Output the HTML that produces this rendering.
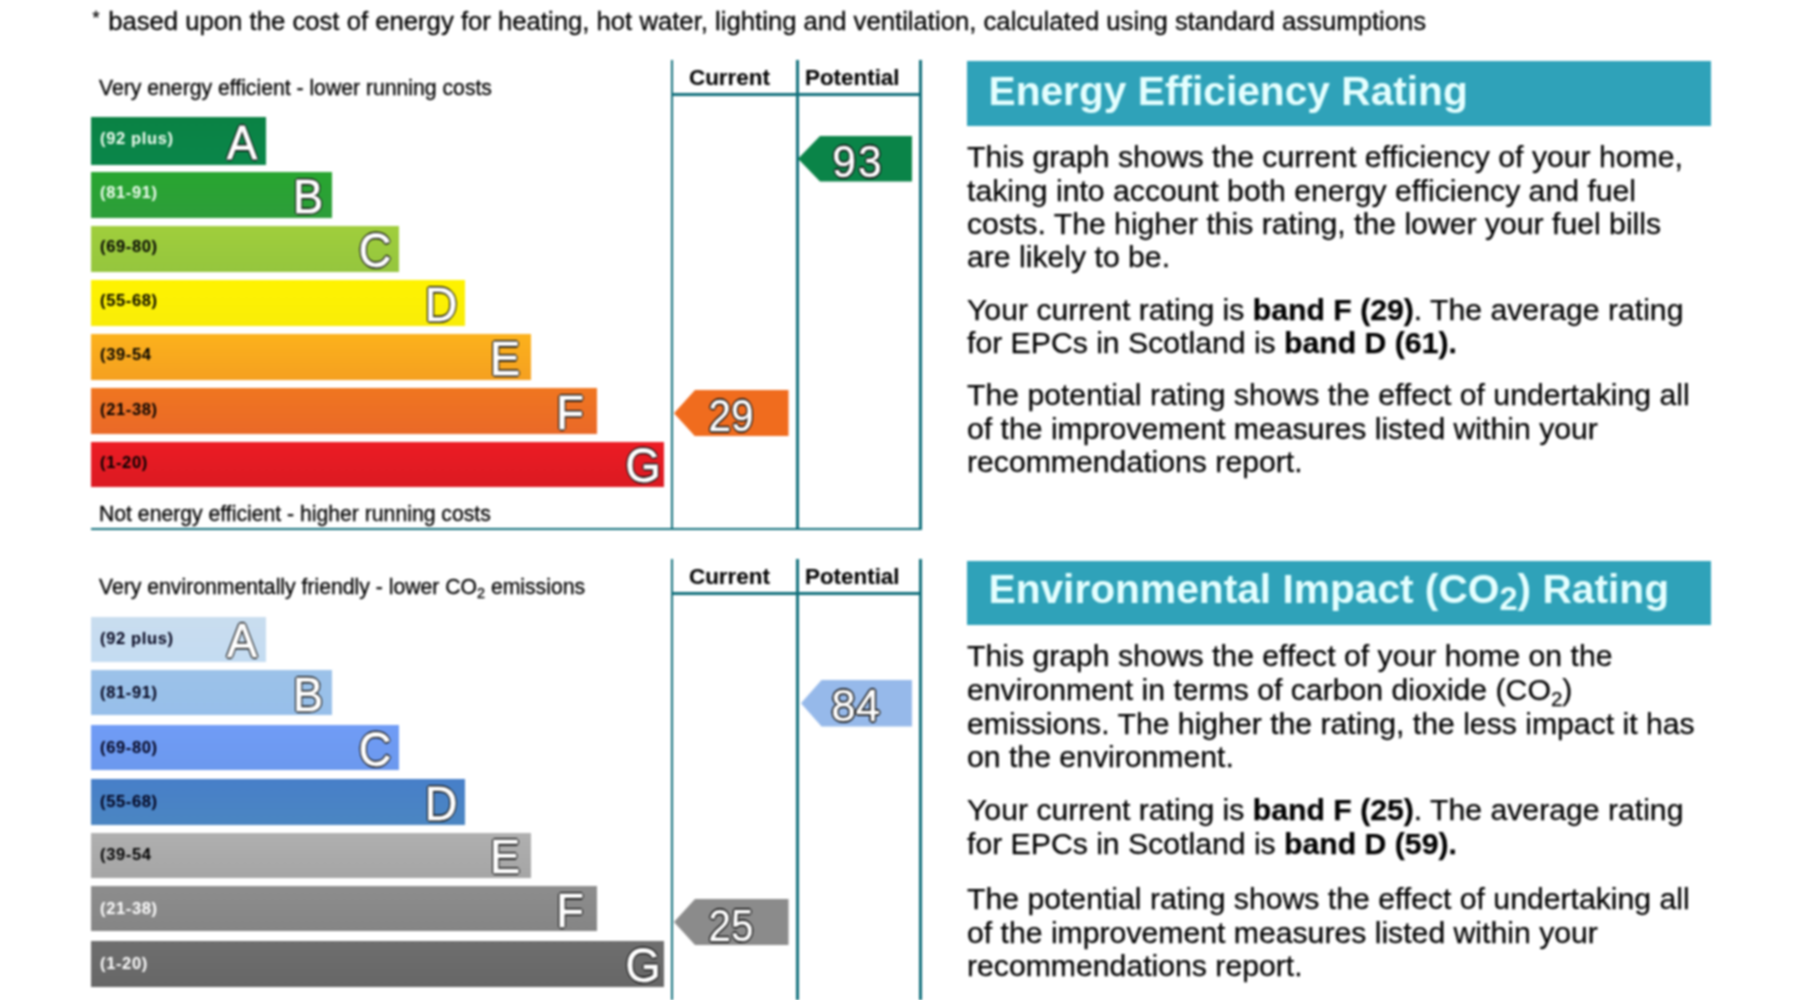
<!DOCTYPE html>
<html lang="en"><head><meta charset="utf-8"><title>Energy Performance Certificate</title>
<style>
html,body{margin:0;padding:0;background:#fff;}
body{width:1800px;height:1000px;position:relative;overflow:hidden;font-family:"Liberation Sans",Arial,Helvetica,sans-serif;color:#000;}
#wrap{position:absolute;left:0;top:0;width:1800px;height:1000px;overflow:hidden;filter:blur(1px);}
.t{position:absolute;white-space:nowrap;line-height:1;-webkit-text-stroke:0.3px #000;}
.bar{position:absolute;left:91px;}
.lab{position:absolute;left:9px;font-weight:bold;font-size:16.5px;line-height:1;white-space:nowrap;letter-spacing:0.65px}
.let{position:absolute;right:-6px;width:60px;text-align:center;font-size:47.5px;line-height:1;color:#fff;-webkit-text-stroke:0.9px #fff;transform:scaleX(0.95);text-shadow:1.6px 0px 0.5px #111,-1.6px 0px 0.5px #111,0px 1.6px 0.5px #111,0px -1.6px 0.5px #111,1.2px 1.2px 0.5px #111,-1.2px -1.2px 0.5px #111,1.2px -1.2px 0.5px #111,-1.2px 1.2px 0.5px #111;}
.vl{position:absolute;width:2.3px;background:#12707c;}
.hl{position:absolute;height:2.3px;background:#12707c;}
.hd{position:absolute;left:967px;width:744px;background:#2fa2b9;}
.hd span{position:absolute;left:21.5px;color:#e4ffff;font-weight:bold;font-size:40.7px;line-height:1;white-space:nowrap;}
.p{position:absolute;left:967px;font-size:30.2px;line-height:1;white-space:nowrap;color:#000;-webkit-text-stroke:0.25px #000;}
.p b{font-weight:bold;color:#000}
.arrow{position:absolute;}
.num{position:absolute;width:80px;text-align:center;color:#fff;font-size:44px;line-height:1;-webkit-text-stroke:0.5px #fff;text-shadow:1.6px 0px 0.5px #111,-1.6px 0px 0.5px #111,0px 1.6px 0.5px #111,0px -1.6px 0.5px #111,1.2px 1.2px 0.5px #111,-1.2px -1.2px 0.5px #111,1.2px -1.2px 0.5px #111,-1.2px 1.2px 0.5px #111;}
sub{font-size:68%;vertical-align:baseline;position:relative;top:0.28em;}
.hd sub{font-size:80%;top:0.22em;}
</style></head><body><div id="wrap">
<div class="t" style="left:91px;top:8.7px;font-size:25.7px;"><span style="font-size:70%;display:inline-block;width:0.556em;text-align:center;position:relative;top:-0.3em;">*</span> based upon the cost of energy for heating, hot water, lighting and ventilation, calculated using standard assumptions</div>
<div class="t" style="left:99px;top:77.1px;font-size:21.2px;">Very energy efficient - lower running costs</div>
<div class="bar" style="top:117px;width:174.5px;height:47.5px;background:linear-gradient(#0a8244,#0a864a);"><span class="lab" style="top:13.3px;color:#f2fff2">(92 plus)</span><span class="let" style="top:1.8px;right:-6px">A</span></div>
<div class="bar" style="top:172px;width:241px;height:45.5px;background:linear-gradient(#28a630,#2d9d3a);"><span class="lab" style="top:12.3px;color:#f2fff2">(81-91)</span><span class="let" style="top:0.8px;right:-6px">B</span></div>
<div class="bar" style="top:226px;width:307.5px;height:45.5px;background:linear-gradient(#a0ce3c,#95c63e);"><span class="lab" style="top:12.3px;color:#000">(69-80)</span><span class="let" style="top:0.8px;right:-6px">C</span></div>
<div class="bar" style="top:280px;width:374px;height:45.5px;background:linear-gradient(#fff300,#f9ed08);"><span class="lab" style="top:12.3px;color:#000">(55-68)</span><span class="let" style="top:0.8px;right:-6px">D</span></div>
<div class="bar" style="top:334px;width:440px;height:45.5px;background:linear-gradient(#fcb21c,#f5a020);"><span class="lab" style="top:12.3px;color:#000">(39-54</span><span class="let" style="top:0.8px;right:-4px">E</span></div>
<div class="bar" style="top:388px;width:506px;height:46px;background:linear-gradient(#f07620,#ea6928);"><span class="lab" style="top:12.6px;color:#000">(21-38)</span><span class="let" style="top:1.1px;right:-3px">F</span></div>
<div class="bar" style="top:441.5px;width:573px;height:45.5px;background:linear-gradient(#ec1c24,#db1a22);"><span class="lab" style="top:12.3px;color:#000">(1-20)</span><span class="let" style="top:0.8px;right:-9px">G</span></div>
<div class="t" style="left:99px;top:503.1px;font-size:21.2px;">Not energy efficient - higher running costs</div>
<div class="vl" style="left:670.8px;top:60px;height:468px"></div><div class="vl" style="left:796.3px;top:60px;height:468px"></div><div class="vl" style="left:919.3px;top:60px;height:468px"></div>
<div class="hl" style="left:670.8px;top:93.3px;width:251px"></div>
<div class="t" style="left:689px;top:66.5px;font-size:22.4px;font-weight:bold;-webkit-text-stroke:0.1px #000;">Current</div>
<div class="t" style="left:805px;top:66.5px;font-size:22.4px;font-weight:bold;-webkit-text-stroke:0.1px #000;">Potential</div>
<div class="hl" style="left:91px;top:527.6px;width:831px"></div>
<div class="arrow" style="left:797.5px;top:136px;width:114.5px;height:45.5px;"><svg width="114.5" height="45.5" viewBox="0 0 114.5 45.5" style="position:absolute;left:0;top:0"><polygon points="0,22.75 22.0,0 114.5,0 114.5,45.5 22.0,45.5" fill="#0a8448"/></svg><span class="num" style="left:20.0px;top:4.2px;transform:scaleX(0.97);letter-spacing:2px">93</span></div>
<div class="arrow" style="left:674px;top:389.7px;width:114.5px;height:46.3px;"><svg width="114.5" height="46.3" viewBox="0 0 114.5 46.3" style="position:absolute;left:0;top:0"><polygon points="0,23.15 21,0 114.5,0 114.5,46.3 21,46.3" fill="#f06c1e"/></svg><span class="num" style="left:17.3px;top:4.2px;transform:scaleX(0.92);letter-spacing:0px">29</span></div>
<div class="t" style="left:99px;top:576.1px;font-size:21.2px;">Very environmentally friendly - lower CO<sub>2</sub> emissions</div>
<div class="bar" style="top:616.5px;width:174.5px;height:45px;background:linear-gradient(#c9ddef,#c4dcf2);"><span class="lab" style="top:13.6px;color:#00001a">(92 plus)</span><span class="let" style="top:0.6px;right:-6px">A</span></div>
<div class="bar" style="top:670.3px;width:241px;height:45px;background:linear-gradient(#9cc2e9,#97bfea);"><span class="lab" style="top:13.6px;color:#00001a">(81-91)</span><span class="let" style="top:0.6px;right:-6px">B</span></div>
<div class="bar" style="top:725.3px;width:307.5px;height:44.7px;background:linear-gradient(#709cf6,#6c99ee);"><span class="lab" style="top:13.4px;color:#00001a">(69-80)</span><span class="let" style="top:0.4px;right:-6px">C</span></div>
<div class="bar" style="top:779px;width:374px;height:45.5px;background:linear-gradient(#477fc9,#4b86c2);"><span class="lab" style="top:13.8px;color:#00001a">(55-68)</span><span class="let" style="top:0.8px;right:-6px">D</span></div>
<div class="bar" style="top:832.5px;width:440px;height:45.5px;background:linear-gradient(#b0b0b0,#a5a5a5);"><span class="lab" style="top:13.8px;color:#000">(39-54</span><span class="let" style="top:0.8px;right:-4px">E</span></div>
<div class="bar" style="top:886px;width:506px;height:45px;background:linear-gradient(#8d8d8d,#858585);"><span class="lab" style="top:13.6px;color:#fff">(21-38)</span><span class="let" style="top:0.6px;right:-3px">F</span></div>
<div class="bar" style="top:941px;width:573px;height:45.5px;background:linear-gradient(#6e6e6e,#676767);"><span class="lab" style="top:13.8px;color:#fff">(1-20)</span><span class="let" style="top:0.8px;right:-9px">G</span></div>
<div class="vl" style="left:670.8px;top:559px;height:468px"></div><div class="vl" style="left:796.3px;top:559px;height:468px"></div><div class="vl" style="left:919.3px;top:559px;height:468px"></div>
<div class="hl" style="left:670.8px;top:592.3px;width:251px"></div>
<div class="t" style="left:689px;top:565.5px;font-size:22.4px;font-weight:bold;-webkit-text-stroke:0.1px #000;">Current</div>
<div class="t" style="left:805px;top:565.5px;font-size:22.4px;font-weight:bold;-webkit-text-stroke:0.1px #000;">Potential</div>
<div class="arrow" style="left:800.5px;top:680.3px;width:111.5px;height:46.5px;"><svg width="111.5" height="46.5" viewBox="0 0 111.5 46.5" style="position:absolute;left:0;top:0"><polygon points="0,23.25 20.5,0 111.5,0 111.5,46.5 20.5,46.5" fill="#96b9ea"/></svg><span class="num" style="left:15.2px;top:3.6px;transform:scaleX(1.0);letter-spacing:0px">84</span></div>
<div class="arrow" style="left:674px;top:898.8px;width:114.5px;height:46px;"><svg width="114.5" height="46" viewBox="0 0 114.5 46" style="position:absolute;left:0;top:0"><polygon points="0,23.0 21,0 114.5,0 114.5,46 21,46" fill="#8b8b8b"/></svg><span class="num" style="left:17.3px;top:5.5px;transform:scaleX(0.92);letter-spacing:0px">25</span></div>
<div class="hd" style="top:61px;height:65px"><span style="top:9.5px">Energy Efficiency Rating</span></div>
<div class="p" style="top:142.4px">This graph shows the current efficiency of your home,</div>
<div class="p" style="top:175.9px">taking into account both energy efficiency and fuel</div>
<div class="p" style="top:209.2px">costs. The higher this rating, the lower your fuel bills</div>
<div class="p" style="top:242.4px">are likely to be.</div>
<div class="p" style="top:294.9px">Your current rating is <b>band F (29)</b>. The average rating</div>
<div class="p" style="top:328.4px">for EPCs in Scotland is <b>band D (61).</b></div>
<div class="p" style="top:380.4px">The potential rating shows the effect of undertaking all</div>
<div class="p" style="top:413.9px">of the improvement measures listed within your</div>
<div class="p" style="top:447.4px">recommendations report.</div>
<div class="hd" style="top:560.5px;height:64.5px"><span style="top:8.3px">Environmental Impact (CO<sub>2</sub>) Rating</span></div>
<div class="p" style="top:640.9px">This graph shows the effect of your home on the</div>
<div class="p" style="top:674.9px">environment in terms of carbon dioxide (CO<sub>2</sub>)</div>
<div class="p" style="top:708.9px">emissions. The higher the rating, the less impact it has</div>
<div class="p" style="top:742.4px">on the environment.</div>
<div class="p" style="top:795.4px">Your current rating is <b>band F (25)</b>. The average rating</div>
<div class="p" style="top:829.4px">for EPCs in Scotland is <b>band D (59).</b></div>
<div class="p" style="top:884.4px">The potential rating shows the effect of undertaking all</div>
<div class="p" style="top:917.9px">of the improvement measures listed within your</div>
<div class="p" style="top:950.9px">recommendations report.</div>
</div></body></html>
